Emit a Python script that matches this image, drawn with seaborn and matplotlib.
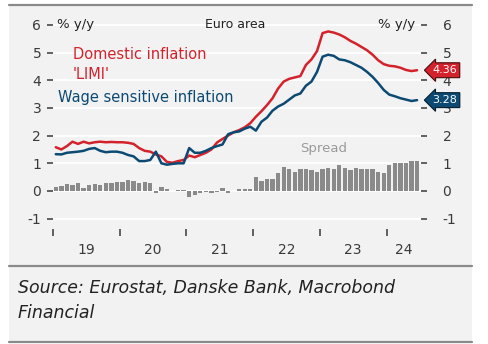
import numpy as np
import pandas as pd
import matplotlib
matplotlib.use("Agg")
import matplotlib.pyplot as plt
import matplotlib.transforms as mtransforms
from matplotlib.patches import Rectangle
from matplotlib.lines import Line2D
import seaborn as sns

# Monthly observations, Jan 2019 - Jun 2024 (% y/y)
months = pd.date_range("2019-01-01", "2024-06-01", freq="MS")

domestic_limi = [
    1.58, 1.50, 1.62, 1.78, 1.70, 1.78, 1.72, 1.76, 1.78, 1.76, 1.77, 1.76,
    1.76, 1.74, 1.70, 1.55, 1.45, 1.42, 1.32, 1.25, 1.05, 1.02, 1.08, 1.12,
    1.28, 1.22, 1.30, 1.38, 1.50, 1.75, 1.88, 2.00, 2.12, 2.20, 2.30, 2.45,
    2.68, 2.88, 3.10, 3.35, 3.70, 3.95, 4.05, 4.10, 4.15, 4.55, 4.75, 5.05,
    5.70, 5.76, 5.72, 5.65, 5.55, 5.42, 5.32, 5.20, 5.08, 4.92, 4.72, 4.58,
    4.52, 4.50, 4.45, 4.37, 4.33, 4.36,
]

wage_sensitive = [
    1.33, 1.32, 1.38, 1.40, 1.42, 1.45, 1.52, 1.55, 1.45, 1.40, 1.42, 1.42,
    1.38, 1.30, 1.25, 1.08, 1.08, 1.12, 1.42, 1.00, 0.95, 0.98, 1.00, 1.00,
    1.55, 1.38, 1.38, 1.45, 1.55, 1.62, 1.68, 2.05, 2.12, 2.15, 2.25, 2.32,
    2.18, 2.50, 2.65, 2.90, 3.05, 3.15, 3.30, 3.45, 3.52, 3.80, 3.95, 4.30,
    4.85, 4.92, 4.88, 4.75, 4.72, 4.65, 4.55, 4.45, 4.30, 4.12, 3.90, 3.65,
    3.48, 3.42, 3.35, 3.30, 3.25, 3.28,
]

spread = [
    0.15, 0.18, 0.25, 0.22, 0.28, 0.12, 0.22, 0.25, 0.22, 0.28, 0.30, 0.32,
    0.32, 0.38, 0.35, 0.30, 0.32, 0.28, -0.08, 0.15, 0.08, 0.00, 0.05, 0.05,
    -0.20, -0.15, -0.08, -0.05, -0.08, -0.05, 0.12, -0.08, 0.00, 0.08, 0.08, 0.08,
    0.50, 0.35, 0.45, 0.45, 0.65, 0.85, 0.80, 0.68, 0.80, 0.80, 0.75, 0.70,
    0.80, 0.82, 0.80, 0.95, 0.82, 0.75, 0.82, 0.80, 0.78, 0.78, 0.70, 0.65,
    0.95, 1.02, 1.02, 1.02, 1.08, 1.08,
]

year_labels = ["19", "20", "21", "22", "23", "24"]
y_ticks = [-1, 0, 1, 2, 3, 4, 5, 6]

RED = "#d3222c"
BLUE = "#0d4a73"
BAR = "#8a8a8a"
PANEL = "#f2f2f2"
RULE = "#8a8a8a"
TXT = "#3a3a3a"

sns.set_style("white")
plt.rcParams["font.family"] = ["DejaVu Sans"]
plt.rcParams["axes.unicode_minus"] = False

W, H = 488, 344
fig = plt.figure(figsize=(W / 100, H / 100), dpi=100, facecolor="white")

def fx(px):
    return px / W

def fy(py):
    return 1 - py / H

# panel background and rules
fig.patches.append(Rectangle((fx(9), fy(342)), fx(472) - fx(9), fy(5) - fy(342),
                             transform=fig.transFigure, facecolor=PANEL,
                             edgecolor="none", zorder=-10))
for yy in (5, 266, 342):
    fig.add_artist(Line2D([fx(9), fx(472)], [fy(yy), fy(yy)], color=RULE, lw=1.6, zorder=-5))

# decimal-year position of each month (mid-month)
t = months.year + (months.month - 0.5) / 12

ax_left, ax_right, ax_top, ax_bot = 53, 421, 18, 229
ax = fig.add_axes([fx(ax_left), fy(ax_bot), fx(ax_right) - fx(ax_left), fy(ax_top) - fy(ax_bot)])
ax.set_facecolor("none")

px_per_unit = 27.7
ylo = (191 - ax_bot) / px_per_unit
yhi = (191 - ax_top) / px_per_unit
xlo = 2019 - 0.0
xhi = 2019 + (ax_right - ax_left) / 66.7

sns.barplot(x=t, y=spread, native_scale=True, width=0.78, color=BAR,
            saturation=1, errorbar=None, ax=ax, zorder=2, linewidth=0)
sns.lineplot(x=t, y=domestic_limi, color=RED, lw=1.8, ax=ax, zorder=4)
sns.lineplot(x=t, y=wage_sensitive, color=BLUE, lw=1.8, ax=ax, zorder=4)

ax.set_xlim(xlo, xhi)
ax.set_ylim(ylo, yhi)
for s in ax.spines.values():
    s.set_visible(False)
ax.set_xlabel("")
ax.set_ylabel("")

ax.set_yticks(y_ticks)
ax.set_yticklabels([str(v) for v in y_ticks])
ax.grid(axis="y", color="white", lw=1.3, zorder=0)
ax.grid(axis="x", visible=False)
ax.set_axisbelow(True)
ax.tick_params(axis="y", left=True, right=False, labelleft=True, length=4.5,
               width=1.3, color="#555555", labelsize=10, labelcolor=TXT, pad=4)

years = [2019, 2020, 2021, 2022, 2023, 2024]
ax.set_xticks(years)
ax.set_xticklabels([""] * len(years))
ax.tick_params(axis="x", which="major", bottom=True, length=5, width=1.3,
               color="#555555", direction="out")
label_pos = [y + 0.5 for y in years[:-1]] + [(2024 + xhi) / 2]
ax.set_xticks(label_pos, minor=True)
ax.set_xticklabels(year_labels, minor=True)
ax.tick_params(axis="x", which="minor", length=0, labelsize=10, labelcolor=TXT, pad=10)

# right-hand scale
ax2 = ax.twinx()
ax2.set_ylim(ylo, yhi)
ax2.set_yticks(y_ticks)
ax2.set_yticklabels([str(v) for v in y_ticks])
ax2.grid(False)
for s in ax2.spines.values():
    s.set_visible(False)
ax2.tick_params(axis="y", right=True, labelright=True, length=4.5, width=1.3,
                color="#555555", labelsize=10, labelcolor=TXT, pad=11)

# headers
blend = mtransforms.blended_transform_factory(ax.transAxes, ax.transData)
ax.text(0.012, 6, "% y/y", transform=blend, ha="left", va="center", fontsize=9.5, color="#222222")
ax.text(0.985, 6, "% y/y", transform=blend, ha="right", va="center", fontsize=9.5, color="#222222")
ax.text(0.495, 6, "Euro area", transform=blend, ha="center", va="center", fontsize=9, color="#222222")

# series labels
ax.text(0.054, 4.91, "Domestic inflation", transform=blend, ha="left", va="center",
        fontsize=10.5, color=RED)
ax.text(0.054, 4.19, "'LIMI'", transform=blend, ha="left", va="center",
        fontsize=10.5, color=RED)
ax.text(0.014, 3.39, "Wage sensitive inflation", transform=blend, ha="left", va="center",
        fontsize=10.5, color=BLUE)
ax.text(0.735, 1.55, "Spread", transform=blend, ha="center", va="center",
        fontsize=9.5, color="#9a9a9a")

# last-value tags
blend2 = mtransforms.blended_transform_factory(ax2.transAxes, ax2.transData)
for val, col, edge in ((domestic_limi[-1], RED, "#4a0a0c"), (wage_sensitive[-1], BLUE, "#051f30")):
    ax2.text(1.065, val, f"{val:.2f}", transform=blend2,
             ha="center", va="center", fontsize=8, color="white", zorder=10,
             bbox=dict(boxstyle="larrow,pad=0.22", fc=col, ec=edge, lw=0.8))

fig.text(fx(18), fy(288), "Source: Eurostat, Danske Bank, Macrobond", style="italic",
         fontsize=12.5, color="#222222", ha="left", va="center")
fig.text(fx(18), fy(313), "Financial", style="italic",
         fontsize=12.5, color="#222222", ha="left", va="center")

fig.savefig("out.png", dpi=100, facecolor="white")
